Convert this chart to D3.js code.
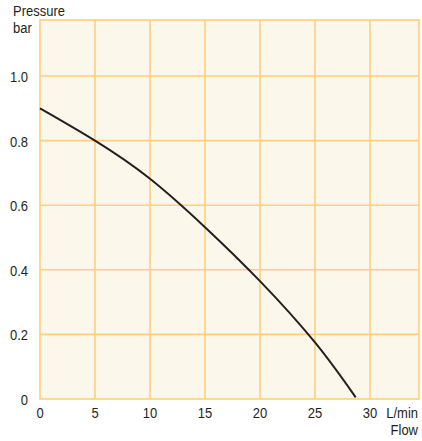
<!DOCTYPE html>
<html><head><meta charset="utf-8">
<script src="https://cdn.jsdelivr.net/npm/d3@7"></script>
<style>body{margin:0;background:#fff}svg{display:block}text{font-family:"Liberation Sans",Arial,sans-serif;fill:#231f20}</style>
</head><body><div id="c"></div>
<script>
const flow = [0, 5, 10, 15, 20, 25, 28.7];
const pressure = [0.9, 0.8, 0.682, 0.532, 0.365, 0.175, 0.005];
const xTicks = [0, 5, 10, 15, 20, 25, 30];
const yTicks = [0, 0.2, 0.4, 0.6, 0.8, 1.0];
const yTickLabels = ["0", "0.2", "0.4", "0.6", "0.8", "1.0"];

const W = 422, H = 441;
const svg = d3.select("#c").append("svg").attr("width", W).attr("height", H);
const x = d3.scaleLinear().domain([0, 30]).range([40, 370]);
const y = d3.scaleLinear().domain([0, 1.0]).range([399, 76]);
const xMax = x.invert(419), yMax = y.invert(20);
const grid = "#fdd07a";

svg.append("rect").attr("x", x(0)).attr("y", y(yMax)).attr("width", x(xMax) - x(0)).attr("height", y(0) - y(yMax)).attr("fill", "#fcf7eb");

const g = svg.append("g");
g.selectAll("line.v").data(xTicks.filter(d => d > 0)).enter().append("line")
  .attr("x1", d => x(d)).attr("x2", d => x(d)).attr("y1", y(0)).attr("y2", y(yMax))
  .attr("stroke", grid).attr("stroke-width", 1.6);
g.selectAll("line.h").data(yTicks.filter(d => d > 0)).enter().append("line")
  .attr("y1", d => y(d)).attr("y2", d => y(d)).attr("x1", x(0)).attr("x2", x(xMax))
  .attr("stroke", grid).attr("stroke-width", 1.6);
svg.append("rect").attr("x", x(0)).attr("y", y(yMax)).attr("width", x(xMax) - x(0)).attr("height", y(0) - y(yMax))
  .attr("fill", "none").attr("stroke", grid).attr("stroke-width", 1.6);

const line = d3.line().x((d, i) => x(flow[i])).y((d, i) => y(pressure[i])).curve(d3.curveNatural);
svg.append("path").datum(pressure).attr("d", line).attr("fill", "none").attr("stroke", "#231f20").attr("stroke-width", 2);

function txt(s, tx, ty, anchor) {
  svg.append("text").attr("transform", `translate(${tx},${ty}) scale(1,1.18)`)
    .attr("text-anchor", anchor).attr("font-size", 13).text(s);
}
yTicks.forEach((v, i) => txt(yTickLabels[i], 28, y(v) + 6, "end"));
xTicks.forEach(v => txt(String(v), x(v), 418, "middle"));
txt("L/min", 418, 418, "end");
txt("Flow", 418, 435, "end");
txt("Pressure", 13, 16, "start");
txt("bar", 13, 33, "start");
</script></body></html>
